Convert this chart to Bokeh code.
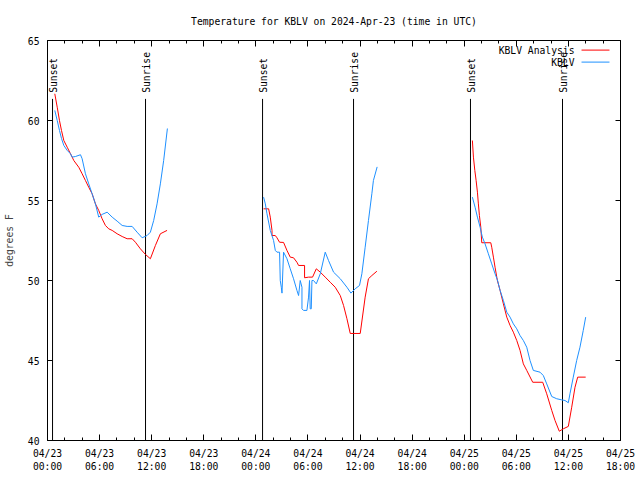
from bokeh.plotting import figure
from bokeh.models import Range1d, FixedTicker, LinearAxis
from bokeh.core.properties import value
from bokeh.embed import file_html
from bokeh.resources import INLINE
import math

FONT = "DejaVu Sans Mono"
FS = "9.7px"

title = "Temperature for KBLV on 2024-Apr-23 (time in UTC)"
y_label = "degrees F"
series_names = ["KBLV Analysis", "KBLV"]
series_colors = ["#ff0000", "#1e90ff"]

# x = hours since 2024-04-23 00:00 UTC
x_ticks = [0, 6, 12, 18, 24, 30, 36, 42, 48, 54, 60, 66]
x_tick_labels = ["04/23\n00:00", "04/23\n06:00", "04/23\n12:00", "04/23\n18:00",
                 "04/24\n00:00", "04/24\n06:00", "04/24\n12:00", "04/24\n18:00",
                 "04/25\n00:00", "04/25\n06:00", "04/25\n12:00", "04/25\n18:00"]
y_ticks = [40, 45, 50, 55, 60, 65]

sunset_hours = [0.58, 24.77, 48.72]
sunrise_hours = [11.29, 35.25, 59.32]

# KBLV Analysis (red), three evening/morning segments
ana1_h = [0.84, 1.12, 1.38, 1.61, 1.88, 2.27, 2.65, 3.03, 3.60, 3.99, 4.37, 4.75, 5.14, 5.52, 5.90,
          6.29, 6.67, 7.05, 7.45, 8.02, 8.60, 9.17, 9.75, 10.13, 10.70, 11.28, 11.85, 12.43, 13.00, 13.77]
ana1_v = [61.67, 60.83, 60.00, 59.38, 58.75, 58.33, 57.92, 57.50, 57.08, 56.67, 56.25, 55.83, 55.42, 54.79, 54.38,
          53.86, 53.44, 53.23, 53.13, 52.92, 52.75, 52.61, 52.61, 52.39, 51.98, 51.63, 51.36, 52.19, 52.92, 53.13]
ana2_h = [24.89, 25.47, 25.66, 25.86, 25.86, 26.24, 26.43, 26.73, 27.19, 27.58, 27.96, 28.34, 28.73, 28.92,
          29.61, 29.61, 30.07, 30.53, 30.96, 31.42, 31.99, 32.57, 33.14, 33.72, 34.10, 34.49, 34.87, 36.02,
          36.59, 36.97, 37.36, 37.94]
ana2_v = [54.48, 54.48, 53.96, 53.13, 52.81, 52.81, 52.67, 52.39, 52.38, 51.88, 51.46, 51.42, 51.14, 50.94,
          50.94, 50.17, 50.21, 50.21, 50.73, 50.52, 50.21, 49.89, 49.58, 49.06, 48.44, 47.61, 46.69, 46.69,
          48.96, 50.11, 50.31, 50.58]
ana3_h = [48.94, 49.06, 49.22, 49.37, 49.52, 49.63, 49.75, 49.91, 50.02, 51.06, 51.17, 51.36, 51.55, 51.75,
          51.82, 52.13, 52.51, 52.90, 53.28, 53.66, 54.05, 54.43, 54.81, 55.20, 55.89, 57.04, 57.50, 58.08,
          58.46, 58.95, 59.41, 59.99, 60.38, 60.76, 61.07, 61.99]
ana3_v = [58.75, 57.71, 56.88, 56.25, 55.52, 54.79, 54.06, 53.33, 52.36, 52.36, 52.08, 51.46, 50.83, 50.21,
          50.00, 49.38, 48.54, 47.71, 47.19, 46.77, 46.25, 45.63, 44.79, 44.38, 43.64, 43.64, 42.92, 41.88,
          41.25, 40.58, 40.73, 40.88, 42.08, 43.33, 43.96, 43.96]

# KBLV observations (blue)
obs1_h = [0.84, 1.12, 1.38, 1.61, 1.88, 2.27, 2.65, 2.84, 3.22, 3.80, 3.99, 4.37, 4.75, 5.14, 5.52, 5.90,
          6.29, 6.87, 7.45, 8.02, 8.60, 9.17, 9.75, 10.32, 10.90, 11.47, 11.85, 12.23, 12.62, 13.00, 13.38, 13.81]
obs1_v = [60.63, 60.00, 59.38, 58.88, 58.44, 58.13, 57.92, 57.71, 57.75, 57.86, 57.61, 56.67, 56.04, 55.42,
          54.79, 53.96, 54.13, 54.27, 53.96, 53.71, 53.44, 53.38, 53.38, 53.02, 52.67, 52.81, 53.02, 53.75,
          54.79, 56.04, 57.50, 59.50]
obs2_h = [24.89, 25.09, 25.28, 25.66, 26.04, 26.24, 26.43, 26.73, 26.81, 26.93, 27.01, 27.19, 27.58, 27.96,
          28.34, 28.73, 28.92, 29.11, 29.31, 29.31, 29.49, 29.88, 30.07, 30.18, 30.26, 30.38, 30.46, 30.64,
          30.96, 31.42, 31.99, 32.37, 32.95, 33.72, 34.49, 34.95, 35.44, 35.94, 36.21, 36.59, 36.97, 37.36,
          37.54, 37.97]
obs2_v = [55.21, 54.79, 54.17, 53.13, 52.50, 51.88, 51.77, 51.77, 50.00, 49.58, 49.21, 51.77, 51.36, 50.73,
          50.11, 49.38, 49.06, 50.00, 49.58, 48.23, 48.13, 48.13, 48.96, 50.00, 48.23, 48.23, 50.00, 50.00,
          49.79, 50.42, 51.77, 51.25, 50.52, 50.11, 49.58, 49.21, 49.48, 49.69, 50.42, 52.08, 53.75, 55.42,
          56.25, 57.10]
obs3_h = [48.94, 49.25, 49.52, 49.83, 50.09, 50.40, 50.78, 51.17, 51.55, 51.82, 52.13, 52.51, 52.90, 53.28,
          53.66, 54.05, 54.43, 54.81, 55.20, 55.58, 55.96, 56.73, 57.11, 57.50, 58.08, 58.65, 59.23, 59.61,
          59.99, 60.18, 60.56, 60.95, 61.33, 61.71, 61.99]
obs3_v = [55.21, 54.58, 53.96, 53.33, 52.71, 52.29, 51.67, 51.04, 50.42, 50.04, 49.38, 48.75, 48.02, 47.71,
          47.29, 46.98, 46.56, 46.25, 45.83, 45.00, 44.38, 44.27, 44.06, 43.54, 42.75, 42.61, 42.54, 42.50,
          42.36, 42.92, 43.96, 45.00, 45.83, 46.88, 47.71]

ana_segments = [(ana1_h, ana1_v), (ana2_h, ana2_v), (ana3_h, ana3_v)]
obs_segments = [(obs1_h, obs1_v), (obs2_h, obs2_v), (obs3_h, obs3_v)]

p = figure(frame_width=573, frame_height=400, output_backend="svg", toolbar_location=None,
           x_range=Range1d(0, 66), y_range=Range1d(40, 65),
           min_border_left=47, min_border_right=20, min_border_top=40, min_border_bottom=40,
           title=title)
p.title.align = "center"
p.title.text_font = FONT
p.title.text_font_size = FS
p.title.text_font_style = "normal"
p.title.text_color = "black"
p.title.standoff = 27
p.grid.visible = False
p.outline_line_color = "black"
p.outline_line_width = 1
p.background_fill_color = "white"
p.border_fill_color = "white"

def style_axis(ax, show_labels):
    ax.axis_line_color = None
    ax.major_tick_in = 6
    ax.major_tick_out = 0
    ax.minor_tick_in = 3
    ax.minor_tick_out = 0
    ax.major_tick_line_color = "black"
    ax.minor_tick_line_color = "black"
    ax.major_label_text_font = FONT
    if show_labels:
        ax.major_label_text_font_size = FS
        ax.major_label_text_color = "black"
    else:
        # mirror axis: ticks only, labels not drawn
        ax.major_label_text_font_size = "1px"
        ax.major_label_text_color = None
        ax.major_label_standoff = 0

xt = FixedTicker(ticks=x_ticks, minor_ticks=list(range(0, 67, 2)))
yt = FixedTicker(ticks=y_ticks, minor_ticks=[])

p.xaxis.ticker = xt
p.xaxis.major_label_overrides = {t: lab for t, lab in zip(x_ticks, x_tick_labels)}
p.xaxis.major_label_standoff = 7
p.yaxis.ticker = yt
p.yaxis.major_label_standoff = 8
p.yaxis.axis_label = y_label
p.yaxis.axis_label_text_font = FONT
p.yaxis.axis_label_text_font_size = FS
p.yaxis.axis_label_text_font_style = "normal"
p.yaxis.axis_label_standoff = 10
for ax in p.xaxis + p.yaxis:
    style_axis(ax, True)

top_ax = LinearAxis(ticker=xt)
style_axis(top_ax, False)
p.add_layout(top_ax, "above")
right_ax = LinearAxis(ticker=yt)
style_axis(right_ax, False)
right_ax.major_tick_in = 5
p.add_layout(right_ax, "right")
p.yaxis.major_tick_in = 5

# sunset / sunrise markers
sun_top = 61.35
for hours, label in [(sunset_hours, "Sunset"), (sunrise_hours, "Sunrise")]:
    p.segment(x0=hours, y0=[40] * len(hours), x1=hours, y1=[sun_top] * len(hours),
              line_color="black", line_width=1)
    p.text(x=hours, y=[61.73] * len(hours), text=[label] * len(hours), angle=math.pi / 2,
           text_font=value(FONT), text_font_size=FS, text_align="left", text_baseline="middle",
           text_color="black", x_offset=1)

for h, v in ana_segments:
    p.line(h, v, line_color=series_colors[0], line_width=1)
for h, v in obs_segments:
    p.line(h, v, line_color=series_colors[1], line_width=1)

# gnuplot-style key: right-aligned text, then line sample
key_text_x = 60.70
key_line_x0, key_line_x1 = 61.51, 64.73
key_y = [64.40, 63.65]
p.text(x=[key_text_x] * 2, y=key_y, text=series_names, text_font=value(FONT), text_font_size=FS,
       text_align="right", text_baseline="middle", text_color="black")
p.segment(x0=[key_line_x0] * 2, y0=key_y, x1=[key_line_x1] * 2, y1=key_y,
          line_color=series_colors, line_width=1)

open("out.html", "w").write(file_html(p, INLINE))
